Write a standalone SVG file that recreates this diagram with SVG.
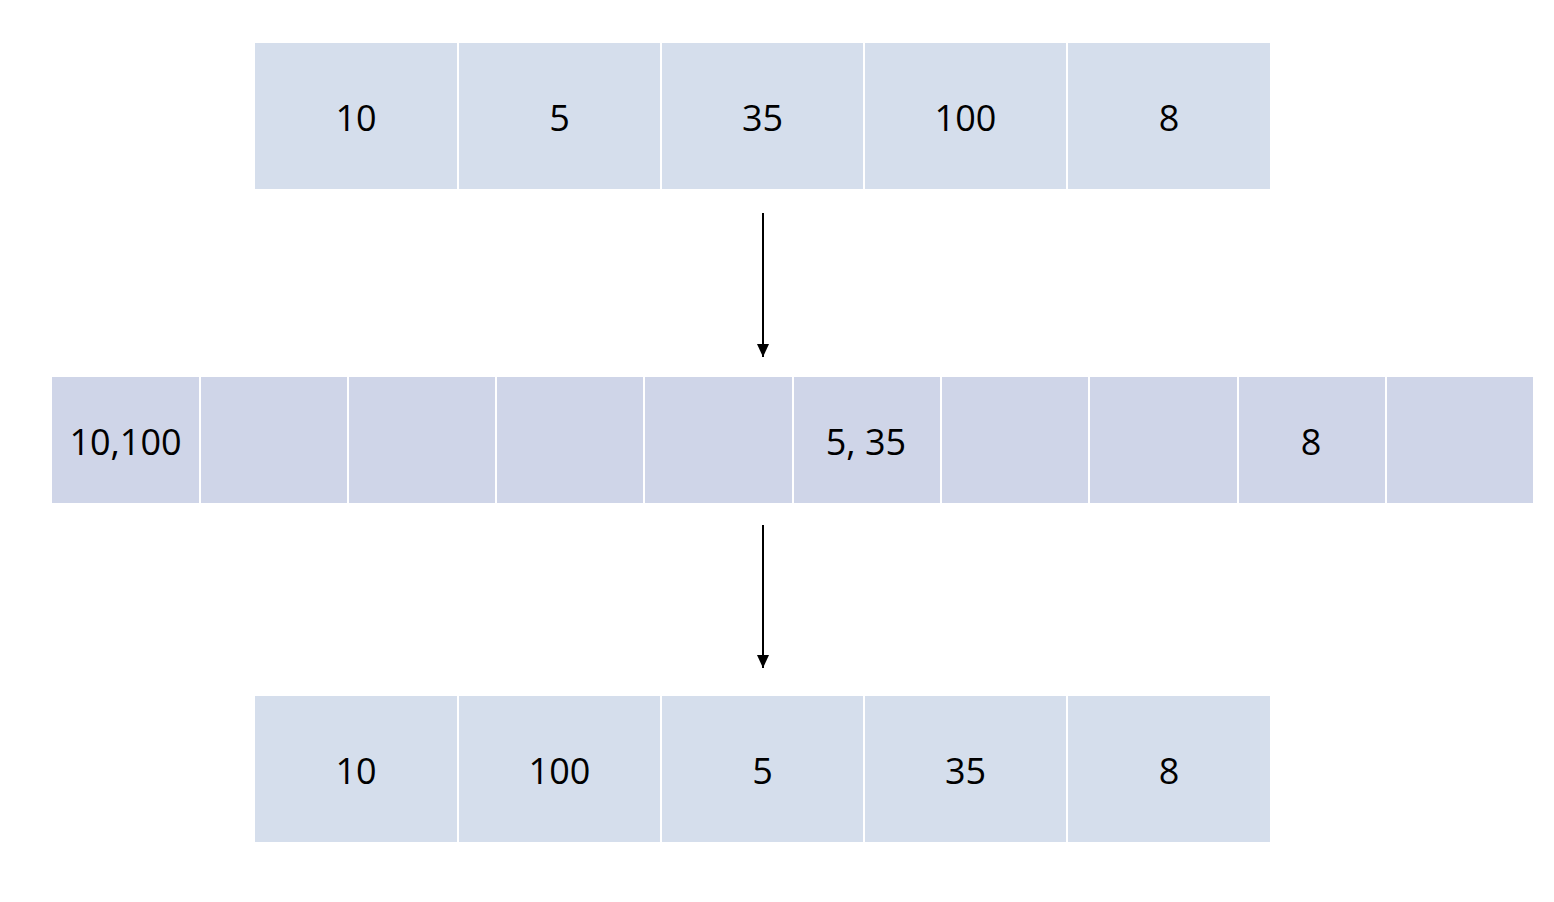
<svg xmlns="http://www.w3.org/2000/svg" width="1554" height="902" viewBox="0 0 1554 902">
<style>
.a{fill:#D5DEEC}
.b{fill:#CFD5E8}
text{font-family:"Open Sans","Liberation Sans",sans-serif;font-size:36px;fill:#000;text-anchor:middle}
.c{stroke:#000;stroke-width:2;fill:none}
</style>
<defs>
<marker id="ah" markerWidth="13" markerHeight="12" refX="13" refY="6" orient="auto" markerUnits="userSpaceOnUse" viewBox="0 0 13 12">
<path d="M0,0 L13,6 L0,12 Z" fill="#000"/>
</marker>
</defs>
<rect width="1554" height="902" fill="#fff"/>
<g id="top-row">
<g id="t1"><rect class="a" x="255" y="43" width="202" height="146"/><text x="356" y="130.5">10</text></g>
<g id="t2"><rect class="a" x="459" y="43" width="201" height="146"/><text x="559.5" y="130.5">5</text></g>
<g id="t3"><rect class="a" x="662" y="43" width="201" height="146"/><text x="762.5" y="130.5">35</text></g>
<g id="t4"><rect class="a" x="865" y="43" width="201" height="146"/><text x="965.5" y="130.5">100</text></g>
<g id="t5"><rect class="a" x="1068" y="43" width="202" height="146"/><text x="1169" y="130.5">8</text></g>
</g>
<g id="mid-row">
<g id="m1"><rect class="b" x="52" y="377" width="147" height="126"/><text x="125.5" y="455">10,100</text></g>
<g id="m2"><rect class="b" x="201" y="377" width="146" height="126"/></g>
<g id="m3"><rect class="b" x="349" y="377" width="146" height="126"/></g>
<g id="m4"><rect class="b" x="497" y="377" width="146" height="126"/></g>
<g id="m5"><rect class="b" x="645" y="377" width="147" height="126"/></g>
<g id="m6"><rect class="b" x="794" y="377" width="146" height="126"/><text x="866" y="455">5, 35</text></g>
<g id="m7"><rect class="b" x="942" y="377" width="146" height="126"/></g>
<g id="m8"><rect class="b" x="1090" y="377" width="147" height="126"/></g>
<g id="m9"><rect class="b" x="1239" y="377" width="146" height="126"/><text x="1311" y="455">8</text></g>
<g id="m10"><rect class="b" x="1387" y="377" width="146" height="126"/></g>
</g>
<g id="bottom-row">
<g id="b1"><rect class="a" x="255" y="696" width="202" height="146"/><text x="356" y="783.5">10</text></g>
<g id="b2"><rect class="a" x="459" y="696" width="201" height="146"/><text x="559.5" y="783.5">100</text></g>
<g id="b3"><rect class="a" x="662" y="696" width="201" height="146"/><text x="762.5" y="783.5">5</text></g>
<g id="b4"><rect class="a" x="865" y="696" width="201" height="146"/><text x="965.5" y="783.5">35</text></g>
<g id="b5"><rect class="a" x="1068" y="696" width="202" height="146"/><text x="1169" y="783.5">8</text></g>
</g>
<g id="connectors">
<line class="c" x1="763" y1="213" x2="763" y2="357" marker-end="url(#ah)"/>
<line class="c" x1="763" y1="525" x2="763" y2="668" marker-end="url(#ah)"/>
</g>
</svg>
